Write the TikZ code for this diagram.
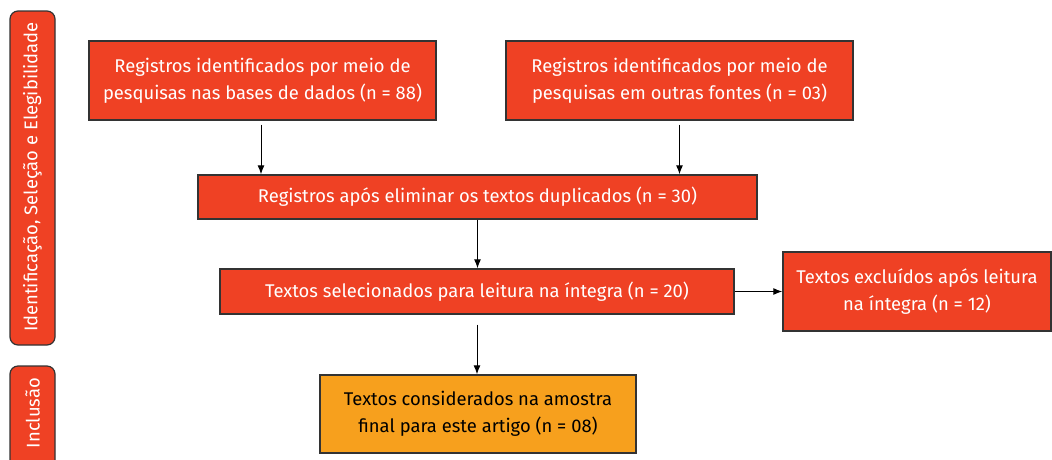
\documentclass[tikz,border=0pt]{standalone}
\usepackage{fontspec}
\setmainfont{Fira Sans}
\usetikzlibrary{arrows.meta}
\definecolor{boxred}{HTML}{EF4124}
\definecolor{boxorange}{HTML}{F7A01D}
\definecolor{edge}{HTML}{333333}
\tikzset{
  box/.style={draw=edge, line width=1.4pt, fill=boxred, text=white, align=center,
    inner sep=0pt, font=\fontsize{18.4}{27}\selectfont},
  finalbox/.style={box, fill=boxorange, text=black},
  bar/.style={draw=edge, line width=1.2pt, fill=boxred, rounded corners=8pt},
  bartext/.style={text=white, rotate=90, font=\fontsize{18.4}{20}\selectfont},
  conn/.style={-{Latex[length=9pt,width=7pt]}, line width=1pt, black},
}
\begin{document}
\begin{tikzpicture}[x=1pt,y=-1pt]
\useasboundingbox (0,0) rectangle (1052,459);
\begin{scope}
\clip (0,0) rectangle (1052,459);
\draw[bar] (10,11) rectangle (55,345);
\draw[bar] (10,366) rectangle (55,480);
\end{scope}
\node[bartext] (lab1) at (32.5,177) {Identificação, Seleção e Elegibilidade};
\node[bartext] (lab2) at (32.5,413) {Inclusão};

\node[box, minimum width=347pt, minimum height=79pt] (A) at (262.5,80.5)
  {Registros identificados por meio de\\pesquisas nas bases de dados (n = 88)};
\node[box, minimum width=347pt, minimum height=79pt] (B) at (679.5,80.5)
  {Registros identificados por meio de\\pesquisas em outras fontes (n = 03)};
\node[box, minimum width=559pt, minimum height=44pt] (C) at (477.5,197)
  {Registros após eliminar os textos duplicados (n = 30)};
\node[box, minimum width=514pt, minimum height=45pt] (D) at (477,291.5)
  {Textos selecionados para leitura na íntegra (n = 20)};
\node[box, minimum width=268pt, minimum height=79pt] (E) at (917,291.5)
  {Textos excluídos após leitura\\na íntegra (n = 12)};
\node[finalbox, minimum width=316pt, minimum height=78pt] (F) at (478,414)
  {Textos considerados na amostra\\final para este artigo (n = 08)};

\draw[conn, shorten <=4pt] ([xshift=-1.5pt]A.south) -- ([xshift=-1.5pt]A.south |- C.north);
\draw[conn, shorten <=4pt] (B.south) -- (B.south |- C.north);
\draw[conn] (C.south) -- (C.south |- D.north);
\draw[conn] (D.east) -- (E.west);
\draw[conn, shorten <=10pt] (D.south) -- (D.south |- F.north);
\end{tikzpicture}
\end{document}
